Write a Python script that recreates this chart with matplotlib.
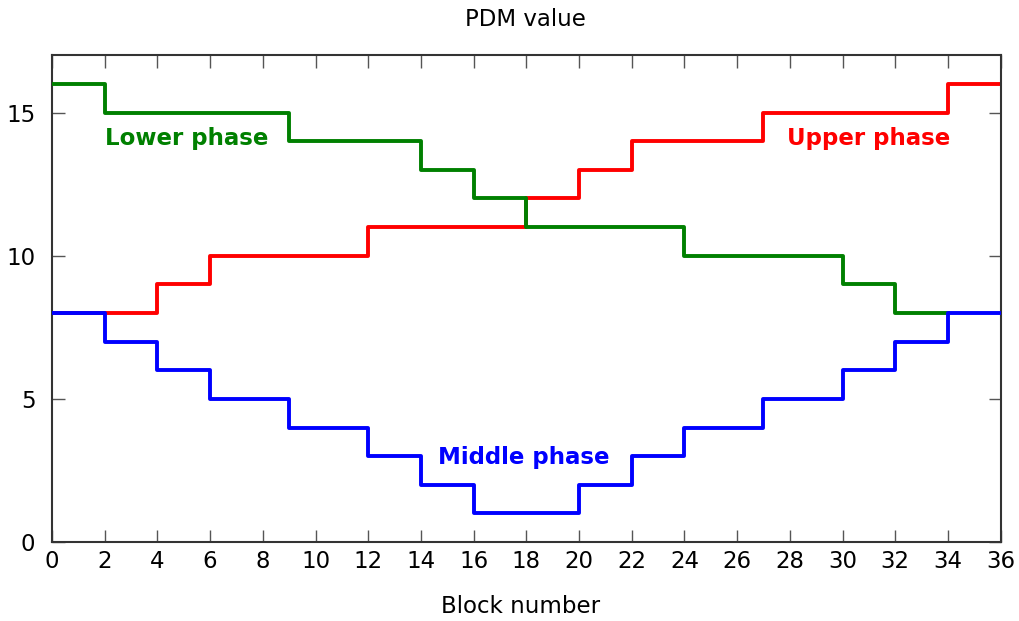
import matplotlib
matplotlib.use('Agg')
import matplotlib.pyplot as plt

# Step edges (block numbers) and PDM values for each phase
lower_x = [0, 2, 9, 14, 16, 18, 24, 30, 32, 34]
lower_y = [16, 15, 14, 13, 12, 11, 10, 9, 8, 8]

upper_x = [0, 2, 4, 6, 12, 18, 20, 22, 27, 34, 36]
upper_y = [8, 8, 9, 10, 11, 12, 13, 14, 15, 16, 16]

middle_x = [0, 2, 4, 6, 9, 12, 14, 16, 20, 22, 24, 27, 30, 32, 34, 36]
middle_y = [8, 7, 6, 5, 4, 3, 2, 1, 2, 3, 4, 5, 6, 7, 8, 8]

x_ticks = list(range(0, 37, 2))
y_ticks = [0, 5, 10, 15]

plt.rcParams['font.family'] = 'DejaVu Sans'

fig = plt.figure(figsize=(10.2, 6.21), dpi=100)
ax = fig.add_axes([0.051, 0.127, 0.930, 0.784])

ax.step(upper_x, upper_y, where='post', color='#ff0000', lw=2.8, zorder=2)
ax.step(lower_x, lower_y, where='post', color='#008000', lw=2.8, zorder=3)
ax.step(middle_x, middle_y, where='post', color='#0000ff', lw=2.8, zorder=4)

ax.text(5.1, 14.1, 'Lower phase', color='#008000', fontsize=16.5, fontweight='bold',
        ha='center', va='center')
ax.text(31.0, 14.1, 'Upper phase', color='#ff0000', fontsize=16.5, fontweight='bold',
        ha='center', va='center')
ax.text(17.9, 2.97, 'Middle phase', color='#0000ff', fontsize=16.5, fontweight='bold',
        ha='center', va='center')

ax.set_xlim(0, 36)
ax.set_ylim(0, 17)
ax.set_xticks(x_ticks)
ax.set_yticks(y_ticks)
ax.tick_params(direction='in', top=True, right=True, length=9, width=1,
               labelsize=16.5, color='#555555')
ax.tick_params(axis='x', pad=6)
ax.tick_params(axis='y', pad=12)
for s in ax.spines.values():
    s.set_linewidth(1.5)
    s.set_color('#333333')

fig.text(0.515, 0.968, 'PDM value', ha='center', va='center', fontsize=16.5)
fig.text(0.51, 0.023, 'Block number', ha='center', va='center', fontsize=16.5)

fig.savefig('out.png', dpi=100)
